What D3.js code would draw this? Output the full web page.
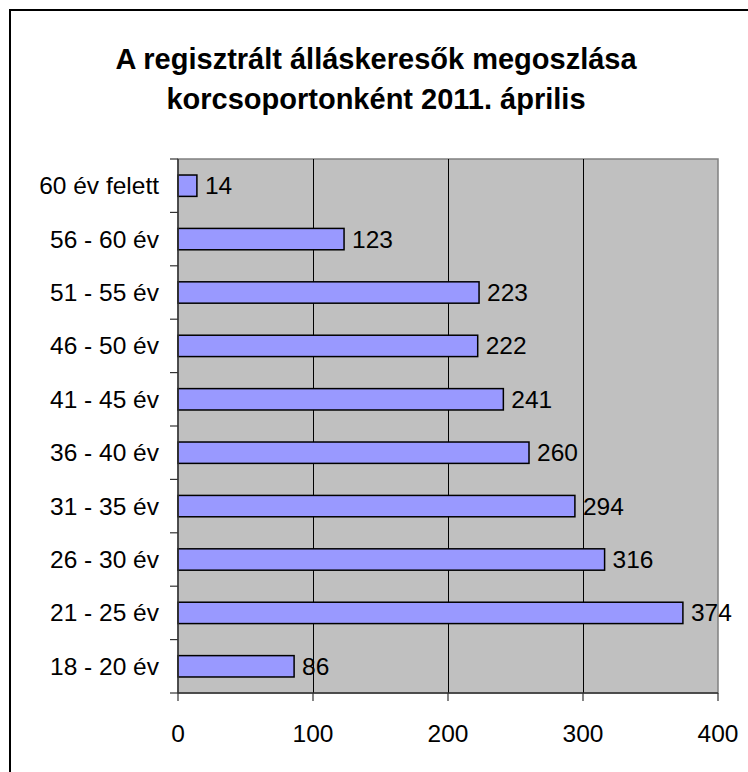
<!DOCTYPE html>
<html>
<head>
<meta charset="utf-8">
<script src="https://cdn.jsdelivr.net/npm/d3@7"></script>
<style>
  body { margin: 0; background: #fff; }
  svg { display: block; font-family: "Liberation Sans", Arial, sans-serif; }
</style>
</head>
<body>
<script>
const TITLE = ["A regisztrált álláskeresők megoszlása", "korcsoportonként 2011. április"];
const CATEGORIES = [
  "60 év felett",
  "56 - 60 év",
  "51 - 55 év",
  "46 - 50 év",
  "41 - 45 év",
  "36 - 40 év",
  "31 - 35 év",
  "26 - 30 év",
  "21 - 25 év",
  "18 - 20 év",
];
const VALUES = [14, 123, 223, 222, 241, 260, 294, 316, 374, 86];
const X_TICKS = [0, 100, 200, 300, 400];

const WIDTH = 748;
const HEIGHT = 772;
const PLOT = { left: 178, right: 718, top: 159, bottom: 693 };
const FONT = 24.5;

const svg = d3
  .select("body")
  .append("svg")
  .attr("width", WIDTH)
  .attr("height", HEIGHT);

// outer chart border (runs off the right and bottom edge)
svg
  .append("rect")
  .attr("x", 10)
  .attr("y", 10)
  .attr("width", 800)
  .attr("height", 800)
  .attr("fill", "none")
  .attr("stroke", "#000")
  .attr("stroke-width", 2);

svg
  .append("text")
  .attr("text-anchor", "middle")
  .attr("font-weight", "bold")
  .attr("font-size", 29)
  .selectAll("tspan")
  .data(TITLE)
  .enter()
  .append("tspan")
  .attr("x", 376)
  .attr("y", (d, i) => 69 + i * 40)
  .text((d) => d);

const x = d3.scaleLinear().domain([0, 400]).range([PLOT.left, PLOT.right]);
const y = d3
  .scaleBand()
  .domain(CATEGORIES)
  .range([PLOT.top, PLOT.bottom])
  .paddingInner(0.6)
  .paddingOuter(0.3);

svg
  .append("rect")
  .attr("x", PLOT.left)
  .attr("y", PLOT.top)
  .attr("width", PLOT.right - PLOT.left)
  .attr("height", PLOT.bottom - PLOT.top)
  .attr("fill", "#c0c0c0")
  .attr("stroke", "#808080")
  .attr("stroke-width", 1.5);

svg
  .append("g")
  .selectAll("line")
  .data(X_TICKS.slice(1, -1))
  .enter()
  .append("line")
  .attr("x1", (d) => Math.round(x(d)) + 0.5)
  .attr("x2", (d) => Math.round(x(d)) + 0.5)
  .attr("y1", PLOT.top)
  .attr("y2", PLOT.bottom)
  .attr("stroke", "#000");

svg
  .append("g")
  .selectAll("rect")
  .data(VALUES)
  .enter()
  .append("rect")
  .attr("x", x(0))
  .attr("y", (d, i) => y(CATEGORIES[i]))
  .attr("width", (d) => x(d) - x(0))
  .attr("height", y.bandwidth())
  .attr("fill", "#9999ff")
  .attr("stroke", "#000")
  .attr("stroke-width", 1.5);

svg
  .append("g")
  .attr("font-size", FONT)
  .selectAll("text")
  .data(VALUES)
  .enter()
  .append("text")
  .attr("x", (d) => x(d) + 8)
  .attr("y", (d, i) => y(CATEGORIES[i]) + y.bandwidth() / 2 + 8.5)
  .text((d) => d);

// category axis
const step = y.step();
svg
  .append("line")
  .attr("x1", PLOT.left)
  .attr("x2", PLOT.left)
  .attr("y1", PLOT.top)
  .attr("y2", PLOT.bottom)
  .attr("stroke", "#333")
  .attr("stroke-width", 1.5);
svg
  .append("g")
  .selectAll("line")
  .data(d3.range(CATEGORIES.length + 1))
  .enter()
  .append("line")
  .attr("x1", PLOT.left - 8)
  .attr("x2", PLOT.left)
  .attr("y1", (d) => PLOT.top + d * step)
  .attr("y2", (d) => PLOT.top + d * step)
  .attr("stroke", "#333")
  .attr("stroke-width", 1.2);
svg
  .append("g")
  .attr("font-size", FONT)
  .attr("text-anchor", "end")
  .selectAll("text")
  .data(CATEGORIES)
  .enter()
  .append("text")
  .attr("x", PLOT.left - 19)
  .attr("y", (d) => y(d) + y.bandwidth() / 2 + 8.5)
  .text((d) => d);

// value axis
svg
  .append("line")
  .attr("x1", PLOT.left)
  .attr("x2", PLOT.right)
  .attr("y1", PLOT.bottom)
  .attr("y2", PLOT.bottom)
  .attr("stroke", "#333")
  .attr("stroke-width", 1.5);
svg
  .append("g")
  .selectAll("line")
  .data(X_TICKS)
  .enter()
  .append("line")
  .attr("x1", (d) => x(d))
  .attr("x2", (d) => x(d))
  .attr("y1", PLOT.bottom)
  .attr("y2", PLOT.bottom + 8)
  .attr("stroke", "#333")
  .attr("stroke-width", 1.2);
svg
  .append("g")
  .attr("font-size", FONT)
  .attr("text-anchor", "middle")
  .selectAll("text")
  .data(X_TICKS)
  .enter()
  .append("text")
  .attr("x", (d) => x(d))
  .attr("y", 742)
  .text((d) => d);
</script>
</body>
</html>
